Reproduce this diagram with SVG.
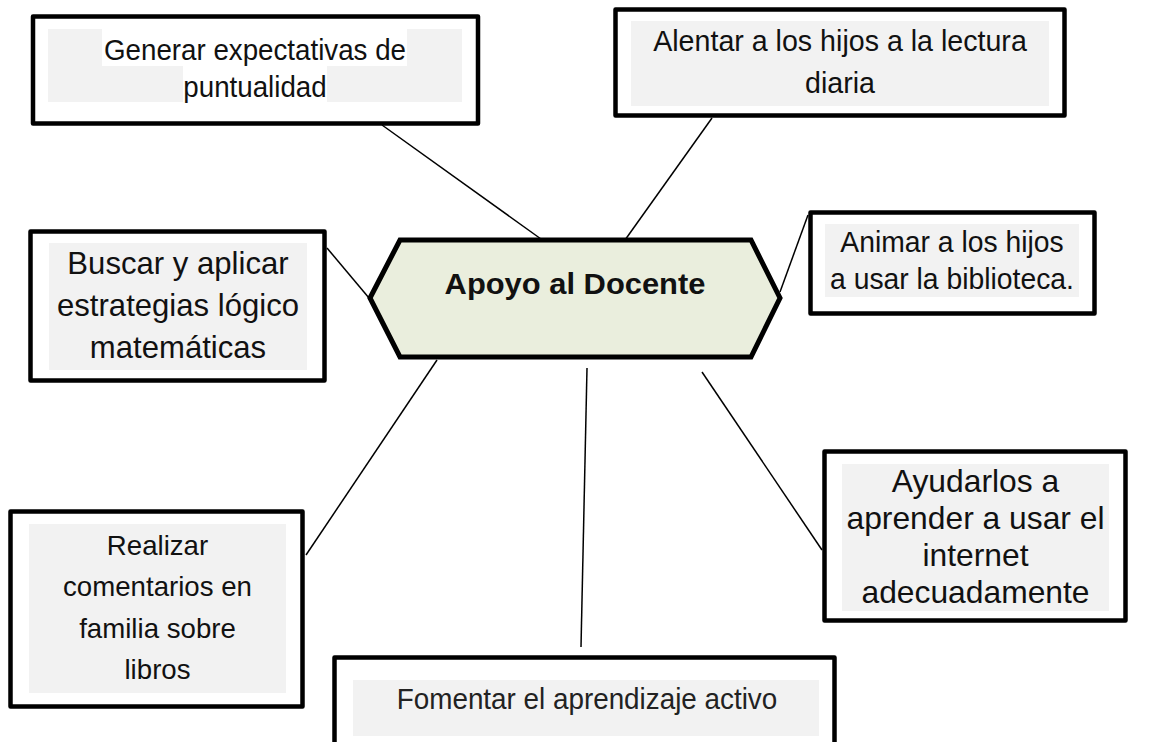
<svg xmlns="http://www.w3.org/2000/svg" width="1163" height="742" viewBox="0 0 1163 742">
<style>
.box{fill:#ffffff;stroke:#000;stroke-width:4.5;stroke-linejoin:round}
.shade{fill:#f2f2f2}
.hl{fill:#ffffff}
.t{font-family:"Liberation Sans",Arial,sans-serif;fill:#111;text-anchor:middle}
.c{stroke:#000;stroke-width:1.5;fill:none}
.hex{fill:#eaeedd;stroke:#000;stroke-width:5;stroke-linejoin:miter}
</style>
<rect width="1163" height="742" fill="#ffffff"/>
<g id="connectors">
<line class="c" x1="382" y1="125" x2="541" y2="239"/>
<line class="c" x1="712" y1="118" x2="625" y2="240"/>
<line class="c" x1="808" y1="215" x2="780" y2="292"/>
<line class="c" x1="327" y1="248" x2="369" y2="298"/>
<line class="c" x1="437" y1="360" x2="306" y2="555"/>
<line class="c" x1="587" y1="368" x2="581" y2="647"/>
<line class="c" x1="702" y1="372" x2="822" y2="550"/>
</g>
<g id="center">
<polygon class="hex" points="370,298 400,240 751,240 780,298 751,357 400,357"/>
<text class="t" transform="translate(575 0) scale(1.03 1)" font-size="30" font-weight="bold"><tspan x="0" y="294">Apoyo al Docente</tspan></text>
</g>
<g id="n-generar">
<rect class="box" x="33" y="16.5" width="445" height="107"/>
<rect class="shade" x="48" y="29" width="414" height="73"/>
<rect class="hl" x="102" y="29" width="305" height="37"/>
<rect class="hl" x="183" y="66" width="144" height="36"/>
<text class="t" transform="translate(255 0) scale(0.94 1)" font-size="29.5"><tspan x="0" y="60">Generar expectativas de</tspan><tspan x="0" y="97">puntualidad</tspan></text>
</g>
<g id="n-alentar">
<rect class="box" x="615.5" y="9.5" width="449" height="106"/>
<rect class="shade" x="631" y="21" width="418" height="85"/>
<text class="t" transform="translate(840 0) scale(0.97 1)" font-size="29.5"><tspan x="0" y="51.5">Alentar a los hijos a la lectura</tspan><tspan x="0" y="93.5">diaria</tspan></text>
</g>
<g id="n-animar">
<rect class="box" x="810.5" y="212.5" width="284" height="101"/>
<rect class="shade" x="825" y="224" width="254" height="73"/>
<text class="t" transform="translate(952 0) scale(0.96 1)" font-size="29.5"><tspan x="0" y="252">Animar a los hijos</tspan><tspan x="0" y="289">a usar la biblioteca.</tspan></text>
</g>
<g id="n-buscar">
<rect class="box" x="30.5" y="231.5" width="294" height="149"/>
<rect class="shade" x="49" y="243" width="258" height="127"/>
<text class="t" transform="translate(178 0) scale(1.02 1)" font-size="30.5"><tspan x="0" y="274">Buscar y aplicar</tspan><tspan x="0" y="316">estrategias lógico</tspan><tspan x="0" y="358">matemáticas</tspan></text>
</g>
<g id="n-realizar">
<rect class="box" x="10.5" y="511.5" width="292" height="195"/>
<rect class="shade" x="29" y="524" width="257" height="169"/>
<text class="t" transform="translate(157.5 0) scale(0.97 1)" font-size="28.5"><tspan x="0" y="555">Realizar</tspan><tspan x="0" y="596.5">comentarios en</tspan><tspan x="0" y="638">familia sobre</tspan><tspan x="0" y="679.5">libros</tspan></text>
</g>
<g id="n-fomentar">
<rect class="box" x="334.5" y="657.5" width="500" height="110"/>
<rect class="shade" x="353" y="680" width="466" height="56"/>
<text class="t" transform="translate(587 0) scale(0.96 1)" font-size="29" style="fill:#222"><tspan x="0" y="709">Fomentar el aprendizaje activo</tspan></text>
</g>
<g id="n-ayudarlos">
<rect class="box" x="824.5" y="451.5" width="301" height="169"/>
<rect class="shade" x="842" y="464" width="267" height="147"/>
<text class="t" transform="translate(975.5 0) scale(1.01 1)" font-size="31.5"><tspan x="0" y="492">Ayudarlos a</tspan><tspan x="0" y="529">aprender a usar el</tspan><tspan x="0" y="566">internet</tspan><tspan x="0" y="603">adecuadamente</tspan></text>
</g>
</svg>
